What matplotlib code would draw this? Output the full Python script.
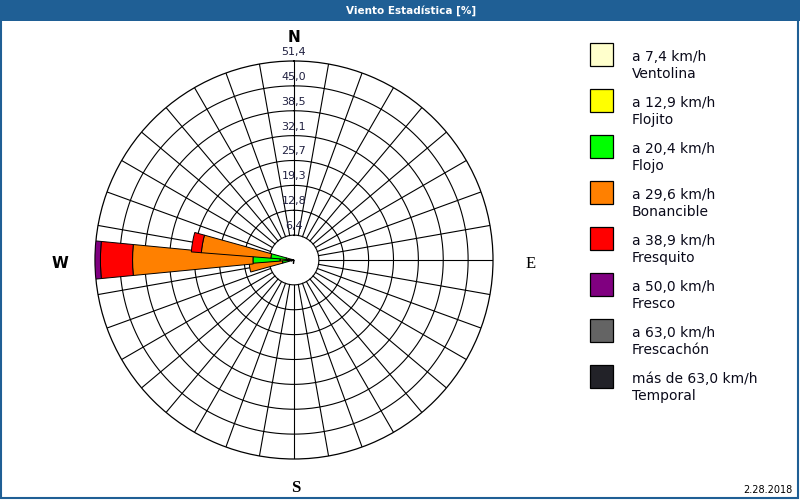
import numpy as np
import matplotlib.pyplot as plt
from matplotlib.patches import Rectangle

# Wind direction bins (degrees, meteorological: 0 = N, clockwise)
directions = np.arange(0, 360, 10)

# Speed classes (legend)
speed_labels = ["a 7,4 km/h", "a 12,9 km/h", "a 20,4 km/h", "a 29,6 km/h",
                "a 38,9 km/h", "a 50,0 km/h", "a 63,0 km/h", "más de 63,0 km/h"]
class_names = ["Ventolina", "Flojito", "Flojo", "Bonancible",
               "Fresquito", "Fresco", "Frescachón", "Temporal"]
class_colors = ["#FFFFCC", "#FFFF00", "#00FF00", "#FF8000",
                "#FF0000", "#800080", "#646464", "#222228"]

# Frequency [%] per class, only non-zero directions listed
freq = {
    "Ventolina":  {190: 0.9, 250: 0.3, 260: 0.3, 270: 0.5, 280: 0.3, 290: 0.2},
    "Flojito":    {250: 0.4, 260: 1.2, 270: 3.1, 280: 1.7},
    "Flojo":      {260: 1.5, 270: 7.0, 280: 4.0},
    "Bonancible": {260: 8.6, 270: 31.1, 280: 18.0},
    "Fresquito":  {270: 8.3, 280: 2.6},
    "Fresco":     {270: 1.4},
    "Frescachón": {},
    "Temporal":   {},
}

ring_values = [6.425, 12.85, 19.275, 25.7, 32.125, 38.55, 44.975, 51.4]
ring_labels = ["6,4", "12,8", "19,3", "25,7", "32,1", "38,5", "45,0", "51,4"]
r_max = 51.4

blue = "#1F5F95"

fig = plt.figure(figsize=(8, 5), dpi=100)
fig.patch.set_facecolor("white")

# Title bar and frame
fig.patches.append(Rectangle((0, 1 - 21 / 500), 1, 21 / 500, transform=fig.transFigure,
                             facecolor=blue, edgecolor="none", zorder=0))
fig.patches.append(Rectangle((0.001, 0.004), 0.997, 0.99, transform=fig.transFigure,
                             facecolor="none", edgecolor=blue, linewidth=1.5, zorder=0))
fig.text(411 / 800, 1 - 11 / 500, "Viento Estadística [%]", color="white", fontsize=7.5,
         fontweight="bold", ha="center", va="center")

# Polar axes: center at (294, 260) px, radius ~199 px
cx, cy, R = 294, 260, 199
ax = fig.add_axes([(cx - R) / 800, (500 - cy - R) / 500, 2 * R / 800, 2 * R / 500],
                  projection="polar")
ax.set_theta_zero_location("N")
ax.set_theta_direction(-1)
ax.set_ylim(0, r_max)
ax.grid(False)
ax.set_xticks([])
ax.set_yticks([])
ax.spines["polar"].set_linewidth(0.9)

# Rings
th = np.linspace(0, 2 * np.pi, 400)
for v in ring_values[:-1]:
    ax.plot(th, np.full_like(th, v), color="black", lw=0.8, zorder=1)

# Spokes every 10 degrees, outside the inner ring
for d in directions:
    ax.plot([np.deg2rad(d)] * 2, [ring_values[0], r_max], color="black", lw=0.8, zorder=1)

# Stacked bars
theta = np.deg2rad(directions)
bottom = np.zeros(len(directions))
for name, color in zip(class_names, class_colors):
    vals = np.array([freq[name].get(d, 0.0) for d in directions])
    mask = vals > 0
    if mask.any():
        ax.bar(theta[mask], vals[mask], width=np.deg2rad(11), bottom=bottom[mask],
               color=color, edgecolor="black", linewidth=0.7, zorder=3)
    bottom += vals

# Ring labels along the north spoke
for v, lab in zip(ring_values, ring_labels):
    ax.annotate(lab, xy=(0, v), xytext=(0, 6.5), textcoords="offset points",
                ha="center", va="center", fontsize=8, color="#202040", zorder=5,
                annotation_clip=False)

# Cardinal labels
fig.text(cx / 800, 1 - 37 / 500, "N", fontsize=11, fontweight="bold", ha="center", va="center")
fig.text(296 / 800, 1 - 488 / 500, "S", fontsize=12, fontweight="bold", family="Liberation Serif",
         ha="center", va="center")
fig.text(60 / 800, 1 - 264 / 500, "W", fontsize=11, fontweight="bold", ha="center", va="center")
fig.text(531 / 800, 1 - 264 / 500, "E", fontsize=12, family="Liberation Serif",
         ha="center", va="center")

# Legend
for i, (lab, name, color) in enumerate(zip(speed_labels, class_names, class_colors)):
    top = 43 + i * 46
    fig.patches.append(Rectangle((590 / 800, 1 - (top + 23) / 500), 23 / 800, 23 / 500,
                                 transform=fig.transFigure, facecolor=color,
                                 edgecolor="black", linewidth=0.9))
    fig.text(632 / 800, 1 - (top + 14) / 500, lab, fontsize=10, va="center", color="#0a0a1a")
    fig.text(632 / 800, 1 - (top + 31) / 500, name, fontsize=10, va="center", color="#0a0a1a")

fig.text(792 / 800, 1 - 490 / 500, "2.28.2018", fontsize=7, ha="right", va="center")

plt.savefig("out.png", dpi=100)
